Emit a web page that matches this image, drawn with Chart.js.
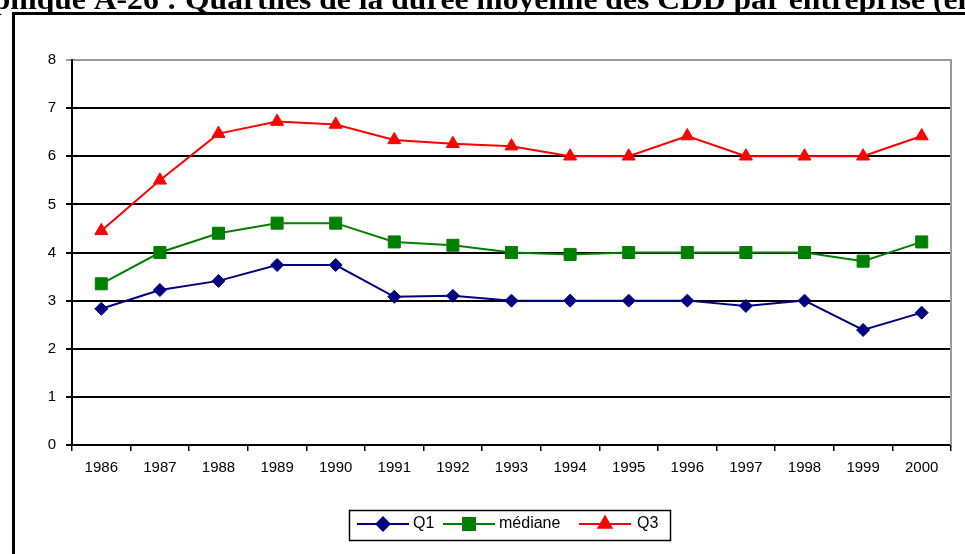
<!DOCTYPE html>
<html>
<head>
<meta charset="utf-8">
<script src="https://cdn.jsdelivr.net/npm/chart.js@4/dist/chart.umd.min.js"></script>
<style>
html,body{margin:0;padding:0;background:#fff;}
#wrap{position:relative;width:965px;height:554px;overflow:hidden;}
canvas{display:block;}
</style>
</head>
<body>
<div id="wrap"><canvas id="c" width="965" height="554"></canvas></div>
<script>
const titleText = "Graphique A-26 : Quartiles de la durée moyenne des CDD par entreprise (en années)";
const years = ["1986","1987","1988","1989","1990","1991","1992","1993","1994","1995","1996","1997","1998","1999","2000"];
const q1 = [2.83,3.22,3.41,3.74,3.74,3.08,3.10,3.00,3.00,3.00,3.00,2.89,3.00,2.39,2.75];
const mediane = [3.35,4.00,4.40,4.61,4.61,4.22,4.15,4.00,3.96,4.00,4.00,4.00,4.00,3.82,4.22];
const q3 = [4.45,5.50,6.47,6.72,6.66,6.34,6.26,6.21,6.00,6.00,6.42,6.00,6.00,6.00,6.42];
const seriesNames = ["Q1","médiane","Q3"];
const yTicks = [0,1,2,3,4,5,6,7,8];

const FONT = '"Liberation Sans", Arial, sans-serif';

const decor = {
  id: 'decor',
  beforeDraw(chart) {
    const ctx = chart.ctx;
    ctx.save();
    ctx.fillStyle = '#fff';
    ctx.fillRect(0, 0, chart.width, chart.height);
    ctx.restore();
  },
  afterDraw(chart) {
    const ctx = chart.ctx;
    const a = chart.chartArea;
    ctx.save();
    // plot area right border (gray)
    ctx.strokeStyle = '#9a9a9a';
    ctx.lineWidth = 2;
    ctx.beginPath();
    ctx.moveTo(a.right, a.top - 1);
    ctx.lineTo(a.right, a.bottom);
    ctx.stroke();
    // outer frame
    ctx.strokeStyle = '#000';
    ctx.lineWidth = 3;
    ctx.beginPath();
    ctx.moveTo(13.5, chart.height + 2);
    ctx.lineTo(13.5, 13.5);
    ctx.lineTo(chart.width + 2, 13.5);
    ctx.stroke();
    // title (cut at top, slightly stretched horizontally)
    ctx.fillStyle = '#000';
    ctx.font = 'bold 29px "Liberation Serif", "Times New Roman", serif';
    ctx.textBaseline = 'alphabetic';
    ctx.textAlign = 'left';
    const pre = ctx.measureText("Graphique A-26 : ").width;
    const mid = ctx.measureText("Quartiles de la durée moyenne des CDD par entreprise ").width;
    const sx = 748 / mid;
    ctx.save();
    ctx.translate(185, 9);
    ctx.scale(sx, 1);
    ctx.fillText(titleText, -pre, 0);
    ctx.restore();
    // legend
    const lx = 349, ly = 510, lw = 321, lh = 30;
    ctx.lineWidth = 1.5;
    ctx.strokeStyle = '#000';
    ctx.strokeRect(lx + 0.5, ly + 0.5, lw, lh);
    const cy = ly + 14;
    const items = [
      {x0: 357, x1: 409, tx: 413},
      {x0: 443, x1: 495, tx: 499},
      {x0: 579, x1: 631, tx: 637}
    ];
    chart.data.datasets.forEach((ds, i) => {
      const it = items[i];
      ctx.strokeStyle = ds.borderColor;
      ctx.lineWidth = 2;
      ctx.beginPath();
      ctx.moveTo(it.x0, cy);
      ctx.lineTo(it.x1, cy);
      ctx.stroke();
      ctx.fillStyle = ds.pointBackgroundColor;
      ctx.strokeStyle = ds.pointBorderColor;
      Chart.helpers.drawPoint(ctx, {pointStyle: ds.pointStyle, radius: ds.pointRadius, rotation: 0, borderWidth: 1}, (it.x0 + it.x1) / 2, cy);
      ctx.fillStyle = '#000';
      ctx.font = '16px ' + FONT;
      ctx.textBaseline = 'middle';
      ctx.fillText(ds.label, it.tx, cy);
    });
    ctx.restore();
  }
};

function mk(label, data, color, style, r) {
  return {
    label, data,
    borderColor: color, backgroundColor: color,
    pointBackgroundColor: color, pointBorderColor: color,
    pointStyle: style, pointRadius: r, pointHoverRadius: r, pointBorderWidth: 1,
    borderWidth: 2, tension: 0, fill: false
  };
}

new Chart(document.getElementById('c'), {
  type: 'line',
  data: {
    labels: years,
    datasets: [
      mk(seriesNames[0], q1, '#000080', 'rectRot', 6.5),
      mk(seriesNames[1], mediane, '#008000', 'rect', 8.5),
      mk(seriesNames[2], q3, '#ff0000', 'triangle', 7.5)
    ]
  },
  options: {
    responsive: false,
    animation: false,
    events: [],
    layout: {padding: {left: 0, right: 14, top: 60, bottom: 0}},
    plugins: {legend: {display: false}, title: {display: false}, tooltip: {enabled: false}},
    scales: {
      x: {
        offset: true,
        grid: {offset: true, drawOnChartArea: false, drawTicks: true, tickLength: 6, color: '#000', lineWidth: 1.5},
        border: {color: '#000', width: 2},
        ticks: {color: '#000', font: {family: FONT, size: 15}, padding: 8, maxRotation: 0, autoSkip: false},
        afterFit(s) { s.height = 109; }
      },
      y: {
        min: 0, max: 8,
        afterBuildTicks(s) { s.ticks = yTicks.map(v => ({value: v})); },
        grid: {
          color: c => (c.tick && c.tick.value === 8) ? '#9a9a9a' : '#000',
          lineWidth: 2, tickLength: 6, drawTicks: true
        },
        border: {color: '#000', width: 2},
        ticks: {color: '#000', font: {family: FONT, size: 15}, padding: 10},
        afterFit(s) { s.width = 72; }
      }
    }
  },
  plugins: [decor]
});
</script>
</body>
</html>
